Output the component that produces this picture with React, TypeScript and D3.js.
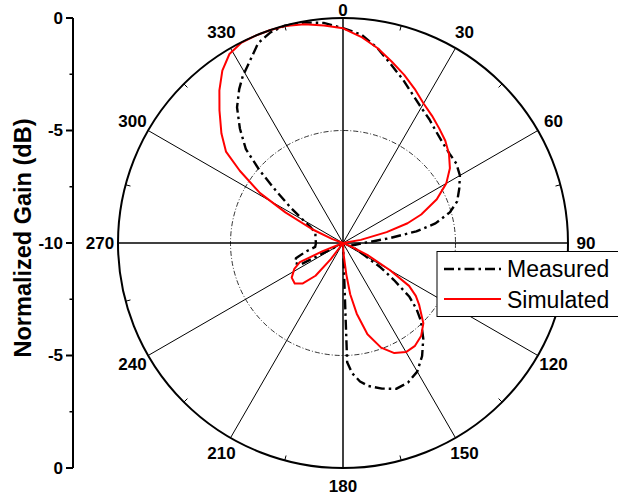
import React from 'react';
import * as d3 from 'd3';

// ---- data (angle in degrees, clockwise from top; gain in dB) ----
const measuredAngles = [0, 5, 10, 15, 20, 25, 30, 35, 40, 45, 50, 55, 60, 65, 70, 74, 78, 81, 84, 87, 90, 95, 100, 105, 110, 115, 120, 123, 126, 129, 132, 135, 140, 145, 150, 155, 160, 165, 170, 173, 176, 178, 180, 190, 200, 210, 220, 230, 240, 243, 247, 252, 257, 262, 270, 280, 290, 296, 300, 304, 308, 311, 314, 318, 322, 326, 329, 333, 337, 341, 345, 350, 355];
const measuredDb = [-0.45, -0.7, -1.2, -1.78, -2.25, -2.7, -3.05, -3.3, -3.55, -3.72, -3.82, -3.85, -4.0, -4.3, -4.6, -5.06, -5.8, -6.7, -7.9, -8.7, -9.1, -9.35, -9.5, -9.6, -9.6, -9.4, -8.9, -8.0, -7.2, -6.2, -5.6, -5.1, -4.45, -3.87, -3.4, -3.16, -3.1, -3.3, -3.55, -3.8, -4.2, -4.7, -10, -10, -10, -10, -10, -10, -9.9, -7.9, -7.7, -7.8, -8.3, -8.75, -8.8, -8.75, -8.7, -8.4, -7.95, -7.2, -6.2, -5.1, -4.0, -3.15, -2.35, -1.75, -1.35, -0.9, -0.35, -0.1, 0, -0.05, -0.18];

const simulatedAngles = [0, 5, 10, 15, 20, 25, 30, 35, 40, 45, 50, 55, 60, 65, 70, 73, 76, 80, 84, 90, 100, 110, 113, 116, 120, 123, 126, 129, 135, 140, 145, 150, 155, 160, 165, 169, 172, 174, 177, 180, 190, 200, 210, 215, 217, 220, 225, 230, 236, 242, 246, 248, 250, 260, 270, 280, 286, 290, 294, 298, 301, 305, 308, 312, 317, 321, 325, 329, 333, 337, 341, 345, 350, 355];
const simulatedDb = [-0.46, -0.8, -1.2, -1.65, -2.05, -2.45, -2.84, -3.1, -3.35, -3.57, -3.85, -4.2, -4.7, -5.4, -6.3, -7.0, -8.0, -9.2, -10, -10, -10, -10, -9.6, -8.8, -7.6, -6.5, -6.0, -5.65, -4.95, -4.6, -4.42, -4.4, -4.6, -5.05, -5.8, -6.8, -7.7, -8.6, -9.5, -10, -10, -10, -10, -10, -9.1, -8.1, -7.45, -7.2, -7.25, -7.55, -7.9, -9.0, -10, -10, -10, -10, -10, -9.5, -8.5, -7.1, -5.7, -4.4, -3.4, -2.73, -1.95, -1.27, -0.65, -0.2, -0.02, 0, 0, -0.02, -0.13, -0.3];

const angleTicks = [0, 30, 60, 90, 120, 150, 180, 210, 240, 270, 300, 330];
const minorAngleTicks = [15, 45, 75, 105, 135, 165, 195, 225, 255, 285, 315, 345];
const gainTickLabels = ['0', '-5', '-10', '-5', '0'];
const gainTickSigned = [10, 5, 0, -5, -10]; // signed distance from -10 dB, top to bottom
const gainMinorSigned = [7.5, 2.5, -2.5, -7.5];
const seriesNames = ['Measured', 'Simulated'];
const axisTitle = 'Normalized Gain (dB)';

const W = 618;
const H = 496;
const cx = 343;
const cy = 243;
const R = 225;
const FONT = '"Liberation Sans", Arial, Helvetica, sans-serif';

const rScale = d3.scaleLinear().domain([-10, 0]).range([0, R]).clamp(true);
const yAxis = d3.scaleLinear().domain([10, -10]).range([cy - R, cy + R]);
const rad = (deg: number) => (deg * Math.PI) / 180;

function pts(angles: number[], vals: number[]) {
  return angles.map((a, i) => [rad(a), rScale(vals[i])] as [number, number]);
}

const radial = d3
  .lineRadial<[number, number]>()
  .angle((d) => d[0])
  .radius((d) => d[1])
  .curve(d3.curveLinearClosed);

export default function App() {
  const measuredPath = radial(pts(measuredAngles, measuredDb)) || '';
  const simulatedPath = radial(pts(simulatedAngles, simulatedDb)) || '';

  const pol = (deg: number, r: number) => [cx + r * Math.sin(rad(deg)), cy - r * Math.cos(rad(deg))];

  return (
    <svg
      width={W}
      height={H}
      viewBox={`0 0 ${W} ${H}`}
      style={{ position: 'absolute', left: 0, top: 0, background: '#fff' }}
      fontFamily={FONT}
    >
      <rect x={0} y={0} width={W} height={H} fill="#fff" />

      {/* inner -5 dB circle */}
      <circle cx={cx} cy={cy} r={rScale(-5)} fill="none" stroke="#000" strokeWidth={0.8} strokeDasharray="5,2,1,2" />

      {/* spokes */}
      {angleTicks.map((a) => {
        const [x2, y2] = pol(a, R);
        const main = a % 90 === 0;
        return <line key={'s' + a} x1={cx} y1={cy} x2={x2} y2={y2} stroke="#000" strokeWidth={main ? 1.5 : 1} />;
      })}

      {/* minor ticks on outer circle */}
      {minorAngleTicks.map((a) => {
        const [x1, y1] = pol(a, R);
        const [x2, y2] = pol(a, R - 5);
        return <line key={'m' + a} x1={x1} y1={y1} x2={x2} y2={y2} stroke="#000" strokeWidth={1} />;
      })}

      {/* curves */}
      <g transform={`translate(${cx},${cy})`}>
        <path d={measuredPath} fill="none" stroke="#000" strokeWidth={2.4} strokeDasharray="10,4,2.5,4" strokeLinejoin="round" />
        <path d={simulatedPath} fill="none" stroke="#ff0000" strokeWidth={2} strokeLinejoin="round" />
      </g>

      {/* outer circle */}
      <circle cx={cx} cy={cy} r={R} fill="none" stroke="#000" strokeWidth={2} />

      {/* angle labels */}
      {angleTicks.map((a) => {
        const [x, y] = pol(a, 243);
        return (
          <text
            key={'l' + a}
            x={x}
            y={a === 0 ? Math.max(y, 10) : y}
            textAnchor="middle"
            dominantBaseline="central"
            fontSize={17}
            fontWeight="bold"
          >
            {a}
          </text>
        );
      })}

      {/* left axis */}
      <line x1={73} y1={yAxis(10)} x2={73} y2={yAxis(-10)} stroke="#000" strokeWidth={2} />
      {gainTickSigned.map((s, i) => (
        <g key={'g' + i}>
          <line x1={66} x2={73} y1={yAxis(s)} y2={yAxis(s)} stroke="#000" strokeWidth={2} />
          <text x={63} y={yAxis(s)} textAnchor="end" dominantBaseline="central" fontSize={17} fontWeight="bold">
            {gainTickLabels[i]}
          </text>
        </g>
      ))}
      {gainMinorSigned.map((s) => (
        <line key={'gm' + s} x1={69.5} x2={73} y1={yAxis(s)} y2={yAxis(s)} stroke="#000" strokeWidth={1.5} />
      ))}
      <text
        transform={`translate(23,238) rotate(-90)`}
        textAnchor="middle"
        dominantBaseline="central"
        fontSize={23.5}
        fontWeight="bold"
      >
        {axisTitle}
      </text>

      {/* legend */}
      <rect x={437} y={251.5} width={200} height={65} fill="#fff" stroke="#000" strokeWidth={1} />
      <line x1={444} x2={501} y1={269} y2={269} stroke="#000" strokeWidth={2.4} strokeDasharray="10,4,2.5,4" />
      <line x1={444} x2={501} y1={299} y2={299} stroke="#ff0000" strokeWidth={2} />
      <text x={507} y={277} fontSize={23}>{seriesNames[0]}</text>
      <text x={507} y={308} fontSize={23}>{seriesNames[1]}</text>
    </svg>
  );
}
